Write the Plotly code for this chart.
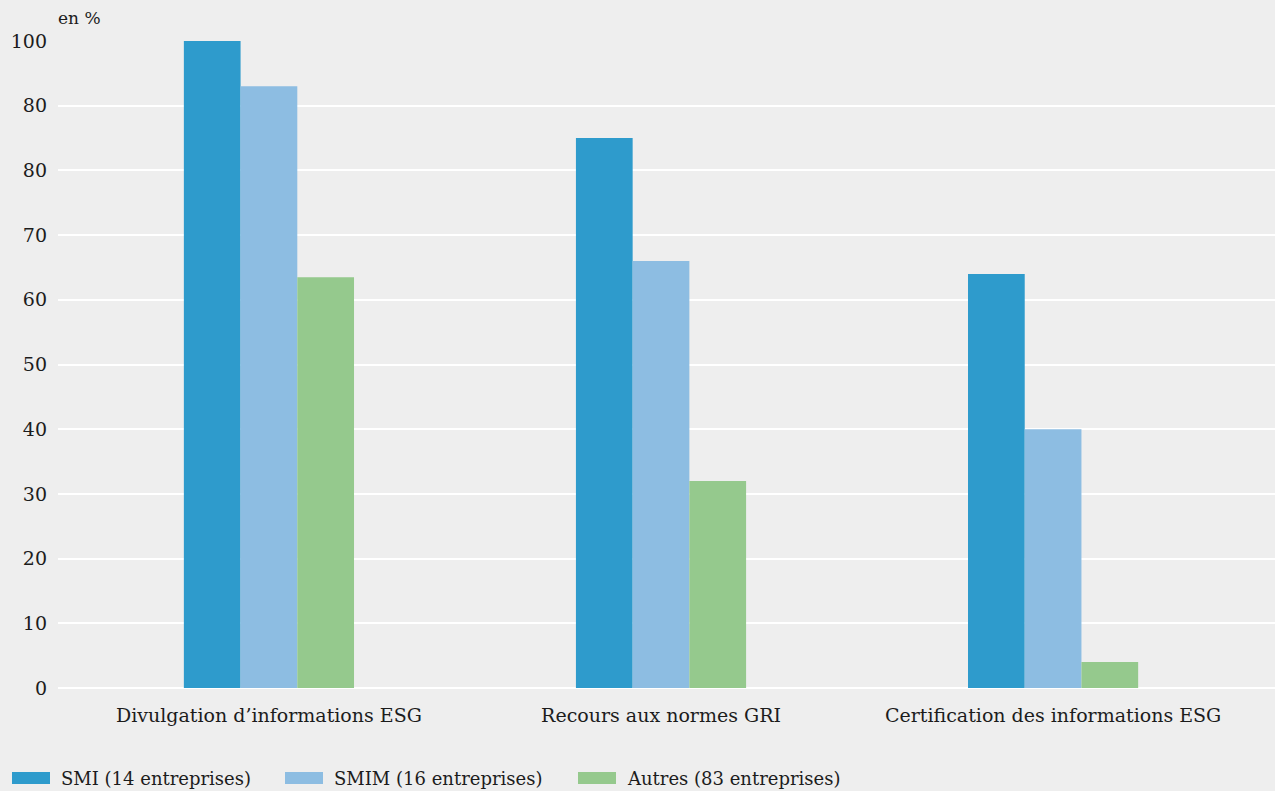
import plotly.graph_objects as go

categories = ["Divulgation d’informations ESG", "Recours aux normes GRI", "Certification des informations ESG"]
smi = [100, 85, 64]
smim = [93, 66, 40]
autres = [63.5, 32, 4]
series_names = ["SMI (14 entreprises)", "SMIM (16 entreprises)", "Autres (83 entreprises)"]
colors = ["#2e9bcc", "#8dbde2", "#95c98d"]
tick_vals = [0, 10, 20, 30, 40, 50, 60, 70, 80, 90, 100]
tick_text = ["0", "10", "20", "30", "40", "50", "60", "70", "80", "80", "100"]

W, H = 1275, 791
L, R, T, B = 58, 0, 41, 103
FONT = "DejaVu Serif"
TXT = "#1c1c1c"

fig = go.Figure()
for name, vals, col in zip(series_names, [smi, smim, autres], colors):
    fig.add_trace(go.Bar(x=categories, y=vals, name=name, marker=dict(color=col, line=dict(width=0)),
                         showlegend=False))

def px_to_paper_x(px):
    return (px - L) / (W - L - R)

def px_to_paper_y(py):
    return (H - B - py) / (H - T - B)

shapes = []
annotations = []
legend_pos = [12, 285, 578]
for x0, name, col in zip(legend_pos, series_names, colors):
    shapes.append(dict(type="rect", xref="paper", yref="paper",
                       x0=px_to_paper_x(x0), x1=px_to_paper_x(x0 + 38),
                       y0=px_to_paper_y(784), y1=px_to_paper_y(772),
                       fillcolor=col, line=dict(width=0)))
    annotations.append(dict(text=name, xref="paper", yref="paper",
                            x=px_to_paper_x(x0 + 47), y=px_to_paper_y(778),
                            xanchor="left", yanchor="middle", showarrow=False,
                            font=dict(family=FONT, size=18, color=TXT)))

annotations.append(dict(text="en %", xref="paper", yref="paper",
                        x=px_to_paper_x(56), y=px_to_paper_y(18),
                        xanchor="left", yanchor="middle", showarrow=False,
                        font=dict(family=FONT, size=17, color=TXT)))

fig.update_layout(
    width=W, height=H,
    margin=dict(l=L, r=R, t=T, b=B),
    paper_bgcolor="#eeeeee", plot_bgcolor="#eeeeee",
    barmode="group", bargap=0.566, bargroupgap=0,
    font=dict(family=FONT, size=19, color=TXT),
    shapes=shapes, annotations=annotations,
    xaxis=dict(range=[-0.538, 2.566], showgrid=False, zeroline=False, showline=False,
               ticks="", ticklabelstandoff=14, tickfont=dict(family=FONT, size=19, color=TXT)),
    yaxis=dict(range=[0, 100], tickvals=tick_vals, ticktext=tick_text,
               showgrid=True, gridcolor="#ffffff", gridwidth=2,
               zeroline=True, zerolinecolor="#ffffff", zerolinewidth=2,
               showline=False, ticks="", ticklabelstandoff=10,
               tickfont=dict(family=FONT, size=19, color=TXT)),
)

fig.write_html("out.html")
